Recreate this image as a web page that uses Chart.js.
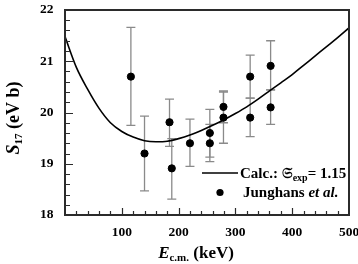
<!DOCTYPE html>
<html>
<head>
<meta charset="utf-8">
<script src="https://cdn.jsdelivr.net/npm/chart.js@4.4.0/dist/chart.umd.min.js"></script>
<style>
  html, body { margin: 0; padding: 0; background: #fff; }
  #wrap { width: 358px; height: 264px; }
</style>
</head>
<body>
<div id="wrap"><canvas id="s17" width="358" height="264"></canvas></div>
<script>
// Junghans et al. data points (keV, eV b)
var energy = [116, 140, 184, 188, 220, 255, 255, 279, 279, 326, 326, 362, 362];
var s17    = [20.70, 19.20, 19.81, 18.91, 19.40, 19.60, 19.40, 20.11, 19.90, 20.70, 19.90, 20.91, 20.10];
var errHigh = [21.66, 19.93, 20.26, 19.49, 19.87, 20.06, 19.77, 20.42, 20.40, 21.12, 20.28, 21.40, 20.44];
var errLow  = [19.75, 18.47, 19.34, 18.31, 18.95, 19.13, 19.04, 19.80, 19.40, 20.28, 19.53, 20.44, 19.77];

// calculated curve
var calcE = [0, 20, 40, 60, 80, 100, 120, 140, 160, 180, 200, 220, 240, 260, 280, 300, 320, 340, 360, 380, 400, 420, 440, 460, 480, 500];
var calcS = [21.48, 20.88, 20.45, 20.08, 19.80, 19.63, 19.52, 19.45, 19.43, 19.44, 19.49, 19.56, 19.65, 19.75, 19.86, 19.98, 20.11, 20.26, 20.42, 20.58, 20.74, 20.92, 21.10, 21.28, 21.46, 21.65];

var xTicks = [100, 200, 300, 400, 500];
var yTicks = [18, 19, 20, 21, 22];

var serif = '"Liberation Serif", "DejaVu Serif", serif';

function pts(xs, ys) {
  var out = [];
  for (var i = 0; i < xs.length; i++) out.push({x: xs[i], y: ys[i]});
  return out;
}

// draw a row of text pieces (normal / italic / subscript)
function drawPieces(ctx, pieces, x, y, align) {
  var total = 0;
  pieces.forEach(function(p) {
    ctx.font = (p.it ? 'italic ' : '') + 'bold ' + p.size + 'px ' + serif;
    p.w = ctx.measureText(p.t).width;
    total += p.w;
  });
  var cx = align == 'center' ? x - total / 2 : x;
  pieces.forEach(function(p) {
    ctx.font = (p.it ? 'italic ' : '') + 'bold ' + p.size + 'px ' + serif;
    ctx.fillText(p.t, cx, y + (p.dy || 0));
    cx += p.w;
  });
}

var extras = {
  id: 'extras',
  beforeDatasetsDraw: function(chart) {
    var ctx = chart.ctx, xs = chart.scales.x, ys = chart.scales.y;
    ctx.save();
    ctx.strokeStyle = '#8a8a8a';
    ctx.lineWidth = 1.3;
    for (var i = 0; i < energy.length; i++) {
      var px = xs.getPixelForValue(energy[i]);
      var top = ys.getPixelForValue(errHigh[i]);
      var bot = ys.getPixelForValue(errLow[i]);
      ctx.beginPath();
      ctx.moveTo(px, top); ctx.lineTo(px, bot);
      ctx.moveTo(px - 4.5, top); ctx.lineTo(px + 4.5, top);
      ctx.moveTo(px - 4.5, bot); ctx.lineTo(px + 4.5, bot);
      ctx.stroke();
    }
    ctx.restore();
  },
  afterDraw: function(chart) {
    var ctx = chart.ctx, a = chart.chartArea;
    var xs = chart.scales.x, ys = chart.scales.y;
    ctx.save();
    // frame
    ctx.strokeStyle = '#2b2b2b';
    ctx.lineWidth = 2;
    ctx.strokeRect(a.left, a.top, a.right - a.left, a.bottom - a.top);
    // inward ticks
    ctx.lineWidth = 1.2;
    ctx.beginPath();
    for (var v = 20; v < 500; v += 20) {
      var px = Math.round(xs.getPixelForValue(v)) + 0.5;
      var len = (v % 100 == 0) ? 7 : 4;
      ctx.moveTo(px, a.bottom); ctx.lineTo(px, a.bottom - len);
    }
    for (var k = 1; k < 20; k++) {
      var yv = 18 + k * 0.2;
      var py = Math.round(ys.getPixelForValue(yv)) + 0.5;
      var l2 = (k % 5 == 0) ? 8 : 5;
      ctx.moveTo(a.left, py); ctx.lineTo(a.left + l2, py);
    }
    ctx.stroke();

    ctx.fillStyle = '#000';
    ctx.textBaseline = 'alphabetic';
    // x title
    drawPieces(ctx, [
      {t: 'E', it: true, size: 17},
      {t: 'c.m.', size: 11, dy: 3},
      {t: ' (keV)', size: 17}
    ], 196, 258, 'center');
    // y title
    ctx.save();
    ctx.translate(19, 118);
    ctx.rotate(-Math.PI / 2);
    drawPieces(ctx, [
      {t: 'S', it: true, size: 18},
      {t: '17', size: 11, dy: 3},
      {t: ' (eV b)', size: 18}
    ], 0, 0, 'center');
    ctx.restore();

    // legend
    ctx.strokeStyle = '#000';
    ctx.lineWidth = 1.5;
    ctx.beginPath();
    ctx.moveTo(202, 173); ctx.lineTo(238, 173);
    ctx.stroke();
    drawPieces(ctx, [
      {t: 'Calc.: ', size: 15},
      {t: '\u{1D516}', size: 15},
      {t: 'exp', size: 10, dy: 3},
      {t: '= 1.15', size: 15}
    ], 240, 177.5, 'left');
    ctx.beginPath();
    ctx.arc(220, 192.5, 3.6, 0, Math.PI * 2);
    ctx.fill();
    drawPieces(ctx, [
      {t: 'Junghans ', size: 15},
      {t: 'et al.', it: true, size: 15}
    ], 243, 196.5, 'left');
    ctx.restore();
  }
};

var chart = new Chart(document.getElementById('s17').getContext('2d'), {
  type: 'scatter',
  data: {
    datasets: [
      {
        label: 'Calc.',
        data: pts(calcE, calcS),
        showLine: true,
        borderColor: '#000',
        borderWidth: 1.6,
        pointRadius: 0,
        tension: 0.4,
        cubicInterpolationMode: 'monotone'
      },
      {
        label: 'Junghans et al.',
        data: pts(energy, s17),
        backgroundColor: '#000',
        borderColor: '#000',
        pointRadius: 3.6,
        showLine: false
      }
    ]
  },
  options: {
    responsive: false,
    animation: false,
    layout: { padding: { top: 10, right: 9, left: 0, bottom: 0 } },
    plugins: { legend: { display: false }, tooltip: { enabled: false } },
    scales: {
      x: {
        type: 'linear',
        min: 0, max: 500,
        afterFit: function(s) { s.height = 49; s.paddingLeft = 0; s.paddingRight = 0; },
        afterBuildTicks: function(s) { s.ticks = xTicks.map(function(v) { return {value: v}; }); },
        grid: { display: false, drawTicks: false },
        border: { display: false },
        ticks: { color: '#000', padding: 9, maxRotation: 0, font: { family: serif, size: 13.5, weight: 'bold' } }
      },
      y: {
        min: 18, max: 22,
        afterFit: function(s) { s.width = 65; s.paddingTop = 0; s.paddingBottom = 0; },
        afterBuildTicks: function(s) { s.ticks = yTicks.map(function(v) { return {value: v}; }); },
        grid: { display: false, drawTicks: false },
        border: { display: false },
        ticks: { color: '#000', padding: 11.5, font: { family: serif, size: 13.5, weight: 'bold' } }
      }
    }
  },
  plugins: [extras]
});
</script>
</body>
</html>
